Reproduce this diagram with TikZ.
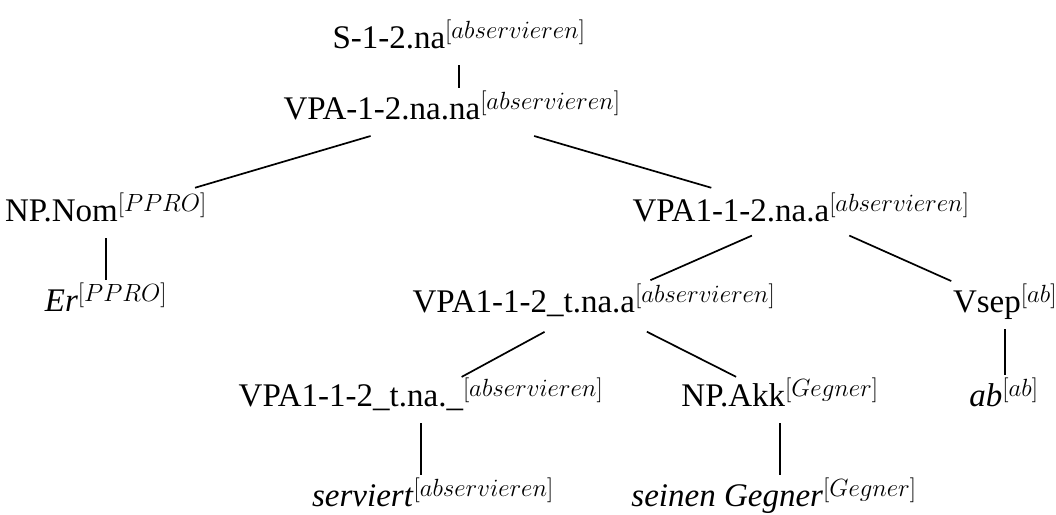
\documentclass[tikz,border=0pt]{standalone}
\usepackage{fontspec}
\setmainfont{Liberation Serif}
\usetikzlibrary{calc}
\begin{document}
\begin{tikzpicture}[x=1pt,y=-1pt,
  font=\fontsize{33}{40}\selectfont,
  tn/.style={anchor=base, inner sep=0pt, outer sep=0pt, text height=31pt, text depth=17pt},
  edge/.style={line width=1.7pt},
  diag/.style={edge, shorten >=2pt}]
\useasboundingbox (0,0) rectangle (1056,514);
\node[tn] (s)      at (459,48)  {S-1-2.na$^{[abservieren]}$};
\node[tn] (vpa)    at (452,119) {VPA-1-2.na.na$^{[abservieren]}$};
\node[tn] (npnom)  at (106,221) {NP.Nom$^{[PPRO]}$};
\node[tn] (vpa1)   at (801,221) {VPA1-1-2.na.a$^{[abservieren]}$};
\node[tn] (er)     at (106,311) {\textit{Er}$^{[PPRO]}$};
\node[tn] (vpat)   at (594,312) {VPA1-1-2\_t.na.a$^{[abservieren]}$};
\node[tn] (vsep)   at (1005,312) {Vsep$^{[ab]}$};
\node[tn] (vpau)   at (421,406) {VPA1-1-2\_t.na.\_$^{[abservieren]}$};
\node[tn] (npakk)  at (780,406) {NP.Akk$^{[Gegner]}$};
\node[tn] (ab)     at (1004,406) {\textit{ab}$^{[ab]}$};
\node[tn] (serv)   at (433,506) {\textit{serviert}$^{[abservieren]}$};
\node[tn] (seinen) at (774,506) {\textit{seinen Gegner}$^{[Gegner]}$};
% unary edges
\draw[edge] (s.south) -- (s.south |- vpa.north);
\draw[edge] (npnom.south) -- (npnom.south |- er.north);
\draw[edge] (vsep.south) -- (vsep.south |- ab.north);
\draw[edge] (vpau.south) -- (vpau.south |- serv.north);
\draw[edge] (npakk.south) -- (npakk.south |- seinen.north);
% branching edges
\draw[diag, shorten >=8pt] (vpa) -- (npnom);
\draw[diag, shorten >=8pt] (vpa) -- (vpa1);
\draw[diag, shorten <=-6pt] (vpa1) -- (vpat);
\draw[diag, shorten <=-6pt] (vpa1) -- (vsep);
\draw[diag, shorten <=6pt, shorten >=-4pt] (vpat) -- (vpau);
\draw[diag, shorten <=6pt, shorten >=-4pt] (vpat) -- (npakk);
\end{tikzpicture}
\end{document}
